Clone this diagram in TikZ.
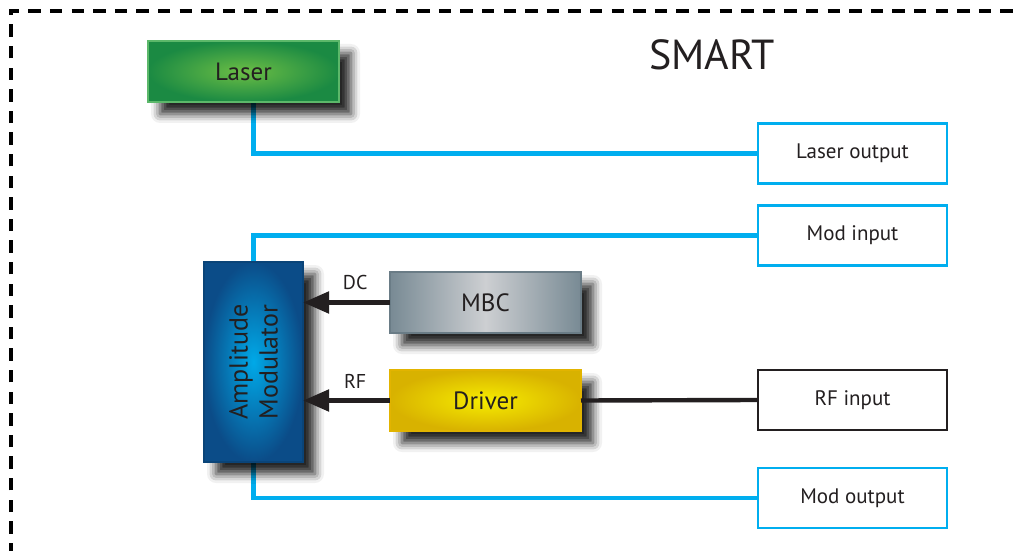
\documentclass[tikz,border=0pt]{standalone}
\usepackage{fontspec}
\setmainfont{PT Sans}
\usetikzlibrary{positioning, calc, arrows.meta, shadows.blur, backgrounds}

\definecolor{fiberblue}{HTML}{00AEEF}
\definecolor{textgray}{HTML}{231F20}
\definecolor{laserin}{HTML}{6CBE45}
\definecolor{laserout}{HTML}{1B8A43}
\definecolor{laseredge}{HTML}{5CB86A}
\definecolor{mbcin}{HTML}{CDCFD2}
\definecolor{mbcout}{HTML}{788A94}
\definecolor{mbcedge}{HTML}{6A7C86}
\definecolor{drvin}{HTML}{F6EC00}
\definecolor{drvout}{HTML}{D8B200}
\definecolor{drvedge}{HTML}{E2B400}
\definecolor{amin}{HTML}{00A9E8}
\definecolor{amout}{HTML}{0B4C88}
\definecolor{amedge}{HTML}{0A4478}

\begin{document}
\begin{tikzpicture}[
  x=0.5pt, y=-0.5pt,
  >={Triangle[length=13pt, width=10.5pt]},
  block/.style={minimum width=95.5pt, minimum height=30.5pt, inner sep=0pt, outer sep=0pt, line width=0.6pt, text=textgray, font=\fontsize{12.5}{14}\selectfont,
    blur shadow={shadow xshift=6pt, shadow yshift=-6pt, shadow blur radius=4.5pt, shadow opacity=85}},
  portbox/.style={draw=fiberblue, line width=1.3pt, fill=white, minimum width=94.5pt, minimum height=30pt, inner sep=0pt, outer sep=0pt, font=\fontsize{10.5}{12}\selectfont, text=textgray},
  border/.style={line width=1.6pt, black, dash pattern=on 6.2pt off 4.6pt},
  fiber/.style={fiberblue, line width=2.1pt},
  wire/.style={textgray, line width=2.2pt},
  flow/.style={->, textgray, line width=2.5pt},
  siglabel/.style={font=\fontsize{10}{12}\selectfont, text=textgray, inner sep=1pt}
]

\useasboundingbox (0,0) rectangle (1014,551);

% enclosure
\draw[border] (11,620) -- (11,11) -- (1060,11);
\node[font=\fontsize{21}{24}\selectfont, text=textgray] (Title) at (712,55) {SMART};

% nodes
\node[block, draw=laseredge, inner color=laserin, outer color=laserout] (Laser) at (243.5,71.5) {Laser};
\node[portbox] (LaserOut) at (852.5,153.5) {Laser output};
\node[portbox] (ModIn)    [below=11pt of LaserOut] {Mod input};

\node[block, minimum width=49.5pt, minimum height=100pt, draw=amedge, inner color=amin, outer color=amout] (AM) at (253.5,362) {};
\node[rotate=90, align=center, text=textgray, font=\fontsize{13}{15}\selectfont] (AMlabel) at (AM.center) {Amplitude\\Modulator};

\node[block, draw=mbcedge, left color=mbcout, right color=mbcout, middle color=mbcin] (MBC) at (485.5,302.5) {MBC};
\node[block, draw=drvedge, inner color=drvin, outer color=drvout] (Driver) [below=18.5pt of MBC] {Driver};

\node[portbox, draw=textgray] (RFIn)   at (852.5,400) {RF input};
\node[portbox]                (ModOut) at (852.5,498) {Mod output};

% fibers (behind the shadows)
\begin{scope}[on background layer]
  \draw[fiber] (AM.north |- Laser.south) |- (LaserOut.west);
  \draw[fiber] (AM.north) |- (ModIn.west);
  \draw[fiber] (AM.south) |- (ModOut.west);
\end{scope}

% flows
\draw[flow] (MBC.west) -- (MBC.west -| AM.east) node[siglabel, pos=0.4, above=4pt] (DClabel) {DC};
\draw[flow] (Driver.west) -- (Driver.west -| AM.east) node[siglabel, pos=0.4, above=4pt] (RFlabel) {RF};
\draw[wire] (Driver.east) -- (RFIn.west);

\end{tikzpicture}
\end{document}
